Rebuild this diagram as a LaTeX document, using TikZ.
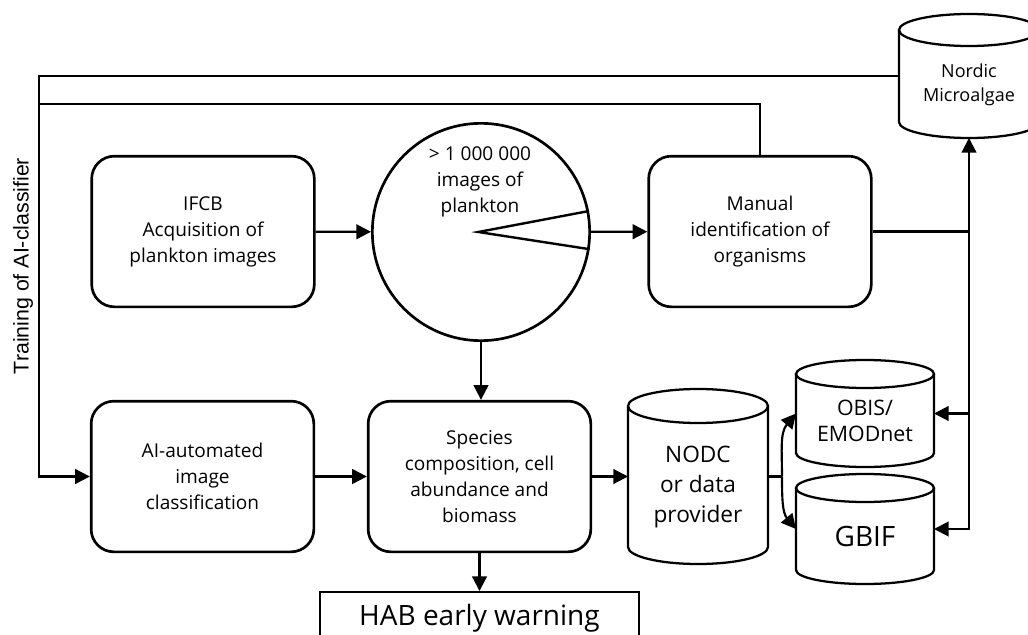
\documentclass[tikz,border=0pt]{standalone}
\usepackage{fontspec}
\setmainfont{Open Sans}
\newfontfamily\railfont{Liberation Sans}
\usetikzlibrary{arrows.meta}

\tikzset{
  procbox/.style={draw, line width=2pt, rounded corners=17pt, minimum width=167pt,
    minimum height=113pt, align=center, font=\fontsize{14.3}{19.5}\selectfont},
  dbbody/.style={inner sep=0pt, outer sep=0pt},
  conn/.style={line width=1.6pt},
  arr/.style={conn, -{Triangle[length=11pt,width=11pt]}},
}

% database cylinder: name, position, width, height, y radius, text shift, font, text
\newcommand{\dbcyl}[8]{%
  \node[dbbody, minimum width=#3, minimum height=#4] (#1) at (#2) {};
  \draw[line width=1.7pt] (#1.north west) -- (#1.south west)
    arc[start angle=180, end angle=360, x radius=#3/2, y radius=#5] -- (#1.north east);
  \draw[line width=1.7pt] (#1.north) ellipse[x radius=#3/2, y radius=#5];
  \node[align=center, font=#7] (#1-txt) at ([yshift=#6]#1.center) {#8};
}

\begin{document}
\begin{tikzpicture}[x=0.75pt, y=0.75pt]
  \useasboundingbox (0,0) rectangle (1028,-635);

  \node[procbox] (ifcb) at (203,-231.5) {IFCB\\Acquisition of\\plankton images};
  \node[procbox] (manual) at (760,-231.5) {Manual\\identification of\\organisms};
  \node[procbox] (ai) at (202.5,-476.5) {AI-automated\\image\\classification};
  \node[procbox] (species) at (479.5,-476.5) {Species\\composition, cell\\abundance and\\biomass};

  \node[draw, circle, line width=2pt, minimum size=163pt, inner sep=0pt] (circ) at (481,-232) {};
  \node[align=center, font=\fontsize{14.3}{19.5}\selectfont] (circtxt) at (480,-182) {> 1 000 000\\images of\\plankton};
  \draw[line width=1.8pt] (circ.11) -- ([xshift=-2pt]circ.center) -- (circ.-9);

  \dbcyl{nordic}{969,-76}{105pt}{69pt}{12pt}{-6.75pt}{\fontsize{13.5}{18}\selectfont}{Nordic\\Microalgae}
  \dbcyl{nodc}{698,-476.5}{105pt}{105.75pt}{12.75pt}{-7.9pt}{\fontsize{17}{22.5}\selectfont}{NODC\\or data\\provider}
  \dbcyl{obis}{865,-413.5}{103.5pt}{59.25pt}{10.5pt}{-5.6pt}{\fontsize{16}{20}\selectfont}{OBIS/\\EMODnet}
  \dbcyl{gbif}{865,-529}{103.5pt}{61.5pt}{10.5pt}{-5.25pt}{\fontsize{21}{25}\selectfont}{GBIF}

  \node[draw, line width=1.2pt, minimum width=239pt, minimum height=40pt,
    font=\fontsize{21}{25}\selectfont] (hab) at (479.5,-618.5) {HAB early warning};

  \node[rotate=90, font=\railfont\fontsize{16}{19}\selectfont] (trainlbl) at (23,-266) {Training of AI-classifier};

  % main flow
  \draw[arr] (ifcb) -- (circ);
  \draw[arr] (circ) -- (manual);
  \draw[arr] (circ.south) -- (circ.south |- species.north);
  \draw[arr] (ai) -- (species);
  \draw[arr] (species) -- (nodc);
  \draw[arr] (species) -- (hab);

  % data delivery
  \coordinate (split) at ([xshift=10.5pt]nodc.east);
  \draw[conn] (nodc.east) -- (split);
  \draw[arr] (split) to[out=90, in=230] (obis.west);
  \draw[arr] (split) to[out=-90, in=130] (gbif.west);

  \coordinate (hub) at (nordic.south |- manual.east);
  \draw[conn] (manual.east) -- (hub);
  \draw[arr] (hub) -- ([yshift=-12pt]nordic.south);
  \draw[arr] (hub) |- (obis.east);
  \draw[arr] (hub) |- (gbif.east);

  % training loop
  \coordinate (rail) at (40,-104);
  \draw[arr] (nordic.west) -| ([xshift=-38pt]ai.west) -- (ai.west);
  \draw[conn] (manual.north) |- (rail);
\end{tikzpicture}
\end{document}
